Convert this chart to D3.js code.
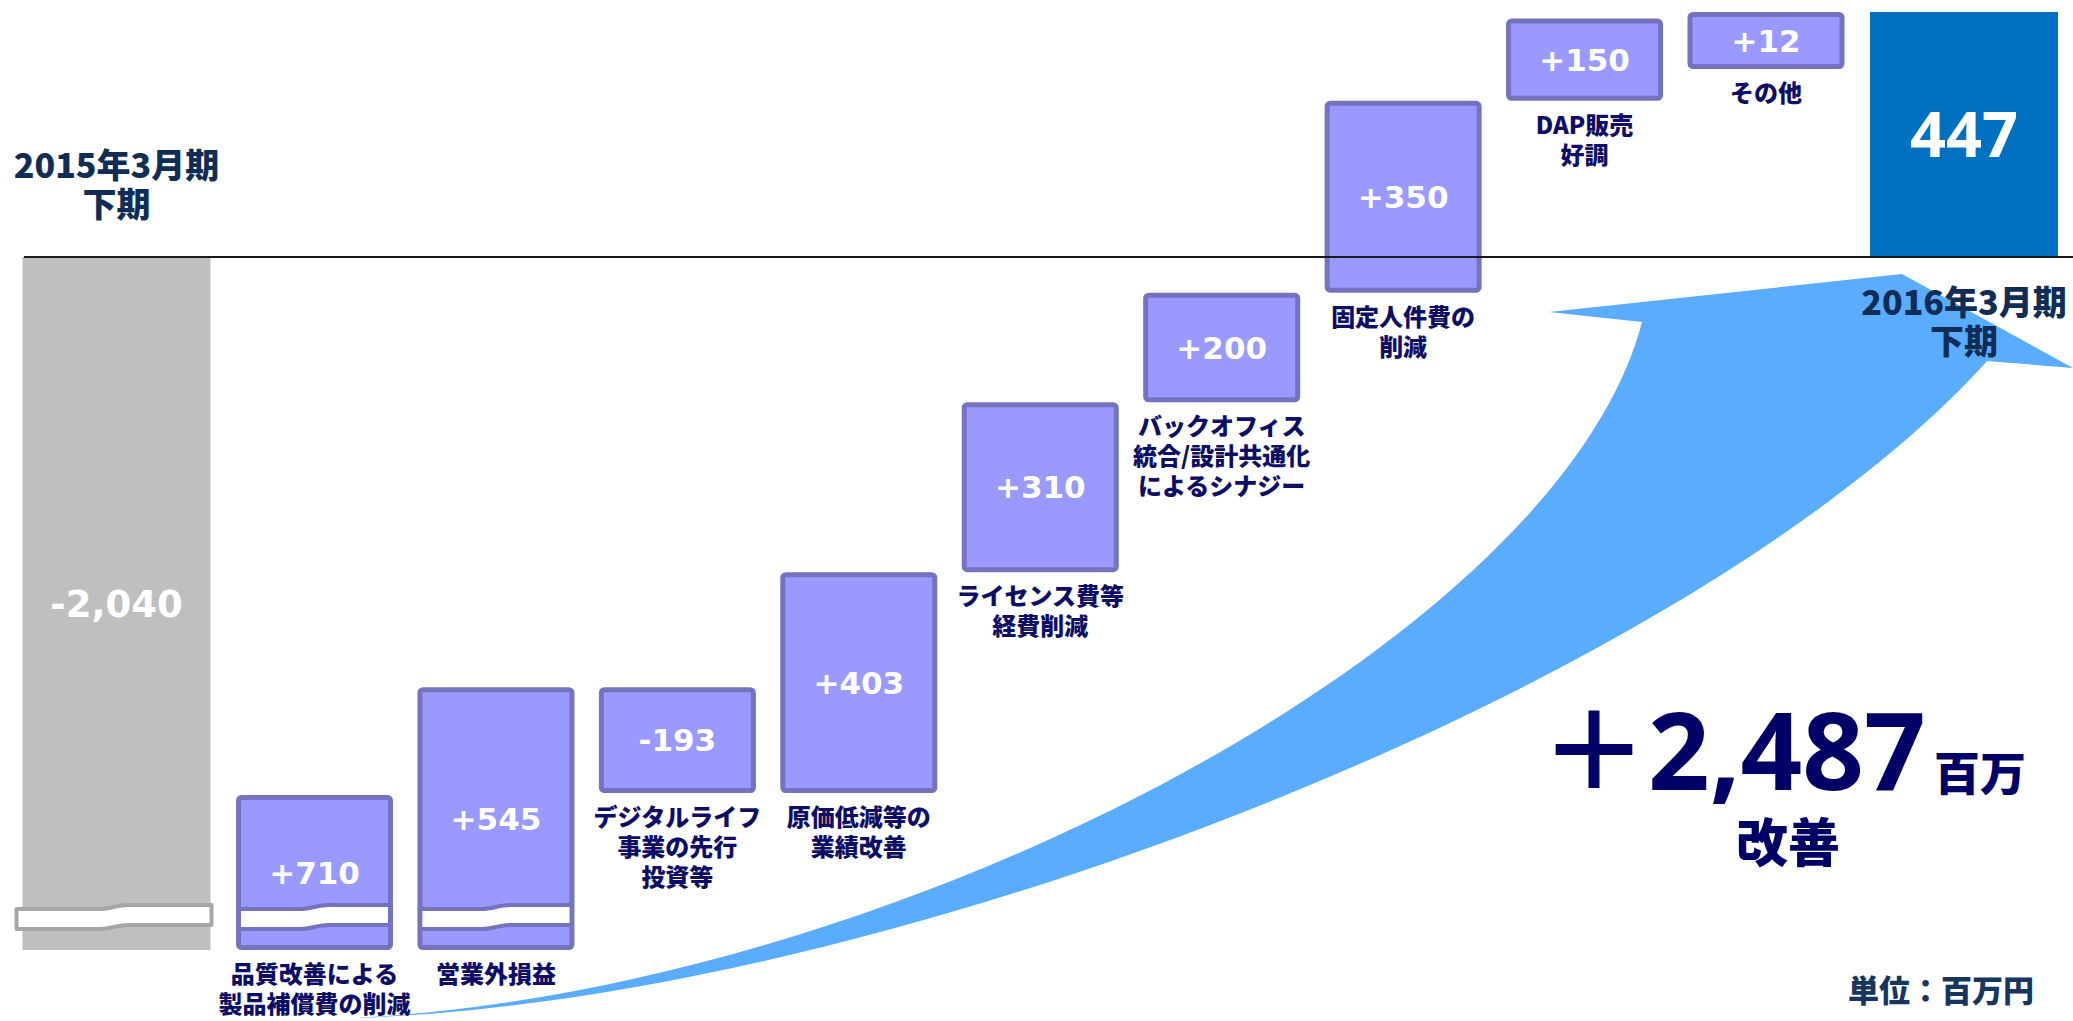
<!DOCTYPE html>
<html lang="ja">
<head>
<meta charset="utf-8">
<title>営業利益の増減要因</title>
<script src="https://cdn.jsdelivr.net/npm/d3@7"></script>
<style>
  html, body { margin: 0; padding: 0; background: #fff; overflow: hidden; }
  svg { display: block; }
</style>
</head>
<body>
<svg id="chart"></svg>
<script>
// --- data ---
const START_LABEL = ['2015年3月期', '下期'];
const END_LABEL   = ['2016年3月期', '下期'];
const START_VALUE = -2040;

const STEP_VALUES = [710, 545, -193, 403, 310, 200, 350, 150, 12];
const STEP_LABELS = [
  ['品質改善による', '製品補償費の削減'],
  ['営業外損益'],
  ['デジタルライフ', '事業の先行', '投資等'],
  ['原価低減等の', '業績改善'],
  ['ライセンス費等', '経費削減'],
  ['バックオフィス', '統合/設計共通化', 'によるシナジー'],
  ['固定人件費の', '削減'],
  ['DAP販売', '好調'],
  ['その他']
];

const SUMMARY_UNIT = '百万';
const SUMMARY_NOTE = '改善';
const UNIT_LABEL   = '単位：百万円';

// --- layout ---
const WIDTH = 2073, HEIGHT = 1021;
const ZERO_Y  = 257;   // baseline (value 0)
const TOP_Y   = 12;    // top of the closing bar
const FLOOR_Y = 950;   // where broken bars are cut off
const STUB_H  = 155;   // visible height of a bar that lies wholly below the cut
const MIN_H   = 57;    // smallest box drawn
const STEP_W  = 157;
const TOTAL_W = 188;

const JP = "'Noto Sans CJK JP', 'Noto Sans', sans-serif";
const JP_WEIGHT = 900;
const NUM = "'DejaVu Sans', sans-serif";

const COLORS = {
  start: '#bfbfbf', startEdge: '#a6a6a6',
  step: '#9999ff', stepEdge: '#7373c0',
  end: '#0070c0',
  arrow: '#5aacff',
  label: '#0e0e66', period: '#0f2d55', summary: '#000066', unit: '#17365d'
};

// cumulative waterfall
let run = START_VALUE;
const bars = [{ i: 0, from: 0, to: START_VALUE, kind: 'start', value: START_VALUE }];
STEP_VALUES.forEach((v, k) => {
  bars.push({ i: k + 1, from: run, to: run + v, kind: 'step', value: v, lines: STEP_LABELS[k] });
  run += v;
});
const END_VALUE = run;
bars.push({ i: STEP_VALUES.length + 1, from: 0, to: END_VALUE, kind: 'end', value: END_VALUE });
const IMPROVEMENT = END_VALUE - START_VALUE;

const n = STEP_VALUES.length;
const x = d3.scaleLinear()
  .domain([0, 1, n, n + 1])
  .range([116.5, 314.5, 1766, 1964]);

const y = d3.scaleLinear()
  .domain([0, END_VALUE])
  .range([ZERO_Y, TOP_Y]);

function geometry(d) {
  const w = d.kind === 'step' ? STEP_W : TOTAL_W;
  let top = y(Math.max(d.from, d.to));
  let bot = y(Math.min(d.from, d.to));
  let broken = false;
  if (bot > FLOOR_Y) {
    broken = true;
    bot = FLOOR_Y;
    top = Math.min(top, FLOOR_Y - STUB_H);
  }
  if (bot - top < MIN_H) bot = top + MIN_H;
  return { cx: x(d.i), x0: x(d.i) - w / 2, x1: x(d.i) + w / 2, top, bot, broken };
}
bars.forEach(d => { d.g = geometry(d); });

const svg = d3.select('#chart')
  .attr('width', WIDTH)
  .attr('height', HEIGHT)
  .attr('viewBox', `0 0 ${WIDTH} ${HEIGHT}`);

// Big improvement arrow (behind everything)
const arrow = d3.path();
arrow.moveTo(355, 1018);
arrow.bezierCurveTo(900, 990, 1560, 640, 1642, 322);
arrow.lineTo(1549, 312);
arrow.lineTo(1902, 274);
arrow.lineTo(2073, 368);
arrow.lineTo(1987, 361);
arrow.bezierCurveTo(1700, 680, 900, 1000, 355, 1018);
arrow.closePath();
svg.append('path').attr('d', arrow.toString()).attr('fill', COLORS.arrow);

// Bars
const barG = svg.append('g');

bars.forEach(d => {
  const g = d.g;
  if (d.kind === 'step') {
    barG.append('rect')
      .attr('x', g.x0 + 2.5).attr('y', g.top + 2.5)
      .attr('width', g.x1 - g.x0 - 5).attr('height', g.bot - g.top - 5)
      .attr('rx', 3)
      .attr('fill', COLORS.step)
      .attr('stroke', COLORS.stepEdge)
      .attr('stroke-width', 5);
  } else {
    barG.append('rect')
      .attr('x', g.x0).attr('y', g.top)
      .attr('width', g.x1 - g.x0).attr('height', g.bot - g.top)
      .attr('fill', d.kind === 'start' ? COLORS.start : COLORS.end);
  }
  if (g.broken) drawBreak(barG, d);
});

// wavy break band near the bottom of a cut bar
function bandEdge(x0, x1, cy) {
  const xm = (x0 + x1) / 2, s = 2;
  return `M${x0},${cy + s} L${xm - 14},${cy + s} C${xm - 4},${cy + s} ${xm + 4},${cy - s} ${xm + 14},${cy - s} L${x1},${cy - s}`;
}
function bandShape(x0, x1, cy, h) {
  const xm = (x0 + x1) / 2, s = 2;
  const t = cy - h, b = cy + h;
  return `M${x0},${t + s} L${xm - 14},${t + s} C${xm - 4},${t + s} ${xm + 4},${t - s} ${xm + 14},${t - s} L${x1},${t - s}` +
         ` L${x1},${b - s} L${xm + 14},${b - s} C${xm + 4},${b - s} ${xm - 4},${b + s} ${xm - 14},${b + s} L${x0},${b + s} Z`;
}
function drawBreak(parent, d) {
  const g = d.g, cy = g.bot - 33, h = 10;
  if (d.kind === 'start') {
    parent.append('path')
      .attr('d', bandShape(g.x0 - 6, g.x1 + 1, cy, h))
      .attr('fill', '#fff')
      .attr('stroke', COLORS.startEdge)
      .attr('stroke-width', 4)
      .attr('stroke-linejoin', 'round');
  } else {
    parent.append('path')
      .attr('d', bandShape(g.x0 + 5, g.x1 - 5, cy, h))
      .attr('fill', '#fff');
    [cy - h, cy + h].forEach(c => {
      parent.append('path')
        .attr('d', bandEdge(g.x0 + 1, g.x1 - 1, c))
        .attr('fill', 'none')
        .attr('stroke', COLORS.stepEdge)
        .attr('stroke-width', 4);
    });
  }
}

// Zero line
svg.append('line')
  .attr('x1', 24).attr('x2', WIDTH)
  .attr('y1', y(0)).attr('y2', y(0))
  .attr('stroke', '#1a1a1a')
  .attr('stroke-width', 2);

// Value labels inside bars (plain hyphen for negatives, as on the slide)
const fmt = v => d3.format(',')(v).replace('\u2212', '-');
bars.forEach(d => {
  const g = d.g;
  const t = svg.append('text')
    .attr('x', g.cx)
    .attr('y', (g.top + g.bot) / 2)
    .attr('text-anchor', 'middle')
    .attr('fill', '#fff')
    .attr('font-weight', 'bold');
  if (d.kind === 'step') {
    t.attr('font-family', NUM).attr('font-size', 31).attr('dy', '0.36em')
      .text((d.value > 0 ? '+' : '') + fmt(d.value));
  } else if (d.kind === 'start') {
    t.attr('font-family', NUM).attr('font-size', 37).attr('dy', '0.36em')
      .text(fmt(d.value));
  } else {
    t.attr('font-family', "'Noto Sans', sans-serif").attr('font-size', 63).attr('dy', '0.36em')
      .text(fmt(d.value));
  }
});

// Step captions under each box
bars.filter(d => d.kind === 'step').forEach(d => {
  const t = svg.append('text')
    .attr('text-anchor', 'middle')
    .attr('font-family', JP)
    .attr('font-weight', JP_WEIGHT)
    .attr('font-size', 24)
    .attr('fill', COLORS.label);
  d.lines.forEach((line, k) => {
    t.append('tspan')
      .attr('x', d.g.cx)
      .attr('y', d.g.bot + 33 + k * 30)
      .text(line);
  });
});

// Period captions
function periodLabel(lines, cx, y0) {
  const t = svg.append('text')
    .attr('text-anchor', 'middle')
    .attr('font-family', JP)
    .attr('font-weight', JP_WEIGHT)
    .attr('font-size', 34)
    .attr('fill', COLORS.period);
  lines.forEach((line, k) => {
    t.append('tspan').attr('x', cx).attr('y', y0 + k * 39).text(line);
  });
}
periodLabel(START_LABEL, x(0), y(0) - 79);
periodLabel(END_LABEL, x(n + 1), y(0) + 58);

// Summary "+2,487 百万 改善"
const summary = svg.append('text')
  .attr('x', 1540).attr('y', 790)
  .attr('font-weight', 'bold')
  .attr('fill', COLORS.summary);
summary.append('tspan')
  .attr('font-family', JP).attr('font-size', 108)
  .text('＋');
summary.append('tspan')
  .attr('font-family', "'Noto Sans', sans-serif").attr('font-size', 108)
  .text(fmt(IMPROVEMENT));
summary.append('tspan')
  .attr('font-family', JP).attr('font-weight', JP_WEIGHT).attr('font-size', 46).attr('dx', 8)
  .text(SUMMARY_UNIT);

svg.append('text')
  .attr('x', 1788).attr('y', 862)
  .attr('text-anchor', 'middle')
  .attr('font-family', JP)
  .attr('font-weight', JP_WEIGHT)
  .attr('font-size', 52)
  .attr('fill', COLORS.summary)
  .text(SUMMARY_NOTE);

// Unit note
svg.append('text')
  .attr('x', 2034).attr('y', 1002)
  .attr('text-anchor', 'end')
  .attr('font-family', JP)
  .attr('font-weight', JP_WEIGHT)
  .attr('font-size', 31)
  .attr('fill', COLORS.unit)
  .text(UNIT_LABEL);
</script>
</body>
</html>
